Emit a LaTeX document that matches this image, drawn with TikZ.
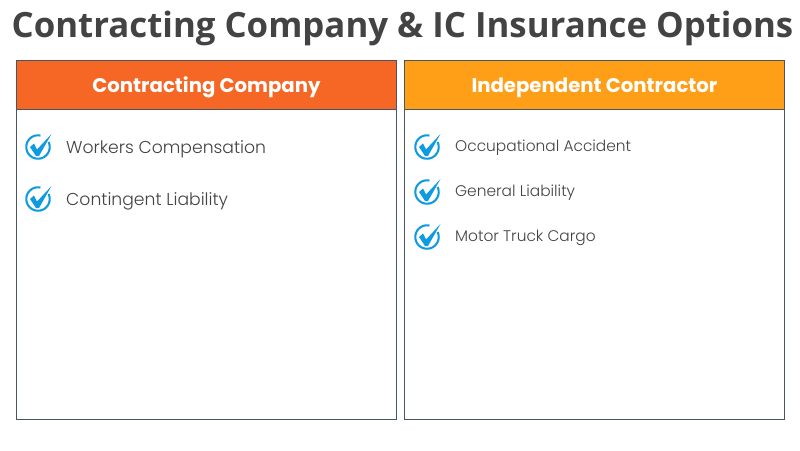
\documentclass[tikz,border=0pt]{standalone}
\usepackage{fontspec}
\setmainfont{Poppins}
\newfontfamily\titlefont{Open Sans}
\newfontfamily\itemfont{Poppins Light}
\definecolor{darkgrey}{HTML}{434343}
\definecolor{frameline}{HTML}{4A5560}
\definecolor{orangeA}{HTML}{F66725}
\definecolor{orangeB}{HTML}{FF9F17}
\definecolor{tickblue}{HTML}{0F9BE0}
\tikzset{
    x=1pt,y=-1pt,
    panel/.style={draw=frameline, line width=.9pt, fill=white, minimum width=380pt, minimum height=359pt, anchor=north west},
    headbox/.style={draw=frameline, line width=.9pt, minimum width=380pt, minimum height=49pt, anchor=north west, text=white, text height=18pt, text depth=2pt, font=\fontsize{19.7}{24}\selectfont\bfseries},
    item/.style={anchor=base west, inner sep=0pt, text=darkgrey, font=\itemfont\fontsize{17.2}{21}\selectfont},
    itemsmall/.style={item, font=\itemfont\fontsize{15.4}{20}\selectfont},
    pics/tick/.style={code={
        \draw[tickblue, line width=2.1pt, domain=-25:282, samples=60, smooth] plot ({11.7*cos(\x)},{11.7*sin(\x)});
        \fill[tickblue] (-8,0)--(-4,-3.5)--(-1,2.5)--(13.5,-13)--(1,9)--(-2,9)--cycle;
    }}
}
\begin{document}
\begin{tikzpicture}
\useasboundingbox (0,0) rectangle (800,450);
\fill[white] (0,0) rectangle (800,450);
\node[anchor=base, text=darkgrey, font=\titlefont\fontsize{34.8}{44}\selectfont\bfseries] (title) at (402.5,37) {Contracting Company \& IC Insurance Options};
% left column
\node[panel] (leftpanel) at (16,60) {};
\node[headbox, fill=orangeA] (lefthead) at (16,60) {Contracting Company};
\pic at (38,147) {tick};
\node[item] (wc) at (66,153.3) {Workers Compensation};
\pic at (38,199) {tick};
\node[item] (cl) at (66,205.7) {Contingent Liability};
% right column
\node[panel] (rightpanel) at (404,60) {};
\node[headbox, fill=orangeB] (righthead) at (404,60) {Independent Contractor};
\pic at (427,147) {tick};
\node[itemsmall] (oa) at (455,151) {Occupational Accident};
\pic at (427,192) {tick};
\node[itemsmall] (gl) at (455,196.7) {General Liability};
\pic at (427,237) {tick};
\node[itemsmall] (mt) at (455,241.7) {Motor Truck Cargo};
\end{tikzpicture}
\end{document}
